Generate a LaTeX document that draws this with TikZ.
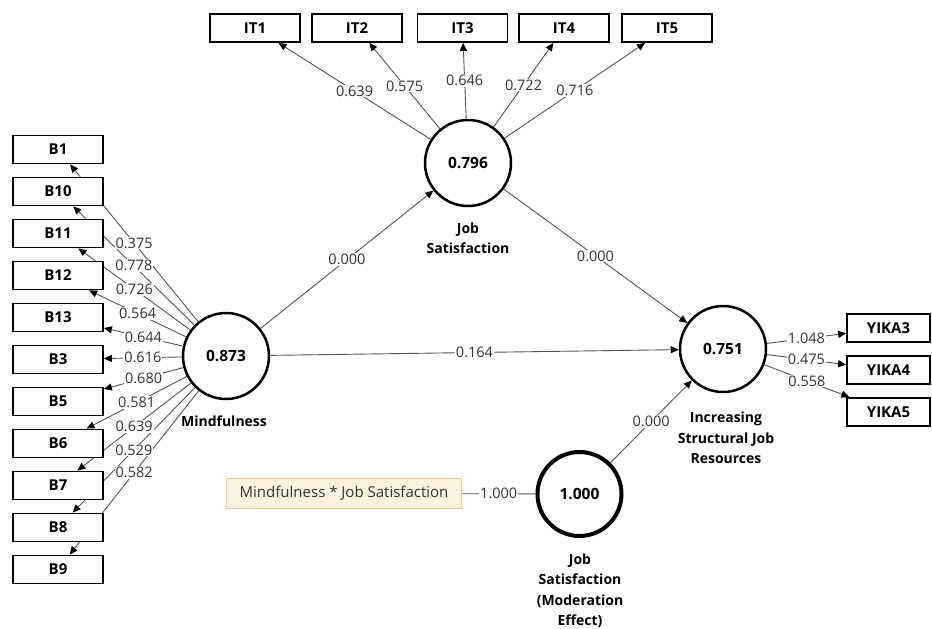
\documentclass[tikz,border=0pt]{standalone}
\usepackage{fontspec}
\setmainfont{Open Sans}
\usetikzlibrary{arrows.meta}
\pgfdeclarelayer{bg}
\pgfsetlayers{bg,main}
\definecolor{edgecol}{HTML}{555555}
\definecolor{lblcol}{HTML}{333333}
\definecolor{ofill}{HTML}{FDF2DE}
\definecolor{odraw}{HTML}{F2C894}
\tikzset{
 ind/.style={draw=black, line width=1.8pt, fill=white, minimum width=90pt, minimum height=28pt, inner sep=0pt, font=\fontsize{15}{17}\selectfont\bfseries},
 indy/.style={ind, minimum width=83pt},
 lat/.style={circle, draw=black, line width=2.5pt, fill=white, minimum size=86pt, inner sep=0pt, font=\fontsize{15.5}{17}\selectfont\bfseries},
 latname/.style={align=center, font=\fontsize{14}{20.5}\selectfont\bfseries},
 conn/.style={draw=edgecol, line width=0.9pt, -{Triangle[length=8pt,width=7pt,color=black]}},
 plainconn/.style={draw=edgecol, line width=0.9pt},
 lbl/.style={fill=white, inner sep=1pt, text=lblcol, font=\fontsize{14.5}{16}\selectfont},
 inter/.style={draw=odraw, fill=ofill, line width=1pt, minimum width=235pt, minimum height=30pt, inner sep=0pt, text=lblcol, font=\fontsize{15}{17}\selectfont},
}
\begin{document}
\begin{tikzpicture}[x=1pt,y=-1pt]
\useasboundingbox (0,0) rectangle (932,629);
% latent variables
\node[lat] (M) at (226,356) {0.873};
\node[lat] (JS) at (468,163) {0.796};
\node[lat] (INC) at (723,349) {0.751};
\node[lat, line width=4pt, minimum size=84pt] (MOD) at (579.5,494) {1.000};
% latent names
\node[latname] (Mn) at (224,421) {Mindfulness};
\node[latname] (JSn) at (468,238) {Job\\Satisfaction};
\node[latname] (INCn) at (726,438) {Increasing\\Structural Job\\Resources};
\node[latname] (MODn) at (580,591) {Job\\Satisfaction\\(Moderation\\Effect)};
% indicators of Mindfulness
\node[ind] (B1)  at (58,149.5) {B1};
\node[ind] (B10) at (58,191.5) {B10};
\node[ind] (B11) at (58,233.5) {B11};
\node[ind] (B12) at (58,275.5) {B12};
\node[ind] (B13) at (58,317.5) {B13};
\node[ind] (B3)  at (58,359.5) {B3};
\node[ind] (B5)  at (58,401.5) {B5};
\node[ind] (B6)  at (58,443.5) {B6};
\node[ind] (B7)  at (58,485.5) {B7};
\node[ind] (B8)  at (58,527.5) {B8};
\node[ind] (B9)  at (58,569.5) {B9};
% indicators of Job Satisfaction
\node[ind] (IT1) at (255,28) {IT1};
\node[ind] (IT2) at (357,28) {IT2};
\node[ind] (IT3) at (462.5,28) {IT3};
\node[ind] (IT4) at (564,28) {IT4};
\node[ind] (IT5) at (667,28) {IT5};
% indicators of Increasing Structural Job Resources
\node[indy] (Y3) at (888.5,328) {YIKA3};
\node[indy] (Y4) at (888.5,370) {YIKA4};
\node[indy] (Y5) at (888.5,412) {YIKA5};
% interaction term
\node[inter] (IA) at (344,493.5) {Mindfulness * Job Satisfaction};
% connectors
\begin{pgfonlayer}{bg}
\foreach \b in {B1,B10,B11,B12,B13,B3,B5,B6,B7,B8,B9} {\draw[conn] (M) -- (\b);}
\foreach \i in {IT1,IT2,IT3,IT4,IT5} {\draw[conn] (JS) -- (\i);}
\foreach \y in {Y3,Y4,Y5} {\draw[conn] (INC) -- (\y);}
\draw[conn] (M) -- (JS);
\draw[conn] (JS) -- (INC);
\draw[conn] (M) -- (INC);
\draw[conn] (MOD) -- (INC);
\draw[plainconn] (IA) -- (MOD);
\end{pgfonlayer}
% labels
\path (M) -- node[lbl] {0.375} (B1);
\path (M) -- node[lbl] {0.778} (B10);
\path (M) -- node[lbl] {0.726} (B11);
\path (M) -- node[lbl] {0.564} (B12);
\path (M) -- node[lbl] {0.644} (B13);
\path (M) -- node[lbl] {0.616} (B3);
\path (M) -- node[lbl] {0.680} (B5);
\path (M) -- node[lbl] {0.581} (B6);
\path (M) -- node[lbl] {0.639} (B7);
\path (M) -- node[lbl] {0.529} (B8);
\path (M) -- node[lbl] {0.582} (B9);
\path (JS) -- node[lbl] {0.639} (IT1);
\path (JS) -- node[lbl] {0.575} (IT2);
\path (JS) -- node[lbl] {0.646} (IT3);
\path (JS) -- node[lbl] {0.722} (IT4);
\path (JS) -- node[lbl] {0.716} (IT5);
\path (INC) -- node[lbl] {1.048} (Y3);
\path (INC) -- node[lbl] {0.475} (Y4);
\path (INC) -- node[lbl] {0.558} (Y5);
\path (M) -- node[lbl] {0.000} (JS);
\path (JS) -- node[lbl] {0.000} (INC);
\path (M) -- node[lbl] {0.164} (INC);
\path (MOD) -- node[lbl] {0.000} (INC);
\path (IA) -- node[lbl] {1.000} (MOD);
\end{tikzpicture}
\end{document}
